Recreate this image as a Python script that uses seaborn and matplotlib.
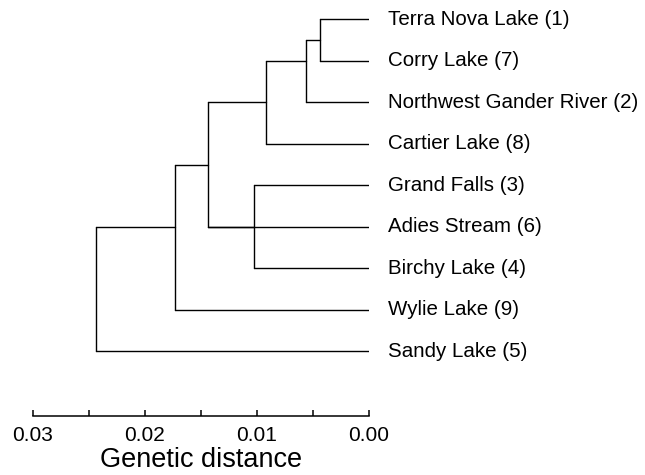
import matplotlib
matplotlib.use("Agg")
import matplotlib.pyplot as plt
import seaborn as sns
import pandas as pd

# ---- data ----
leaves = ["Terra Nova Lake (1)", "Corry Lake (7)", "Northwest Gander River (2)",
          "Cartier Lake (8)", "Grand Falls (3)", "Adies Stream (6)",
          "Birchy Lake (4)", "Wylie Lake (9)", "Sandy Lake (5)"]
# internal nodes: name, children, genetic distance (node height)
node_names = ["n1", "n2", "n3", "n4", "n5", "n6", "root"]
node_children = [["Terra Nova Lake (1)", "Corry Lake (7)"],
                 ["n1", "Northwest Gander River (2)"],
                 ["n2", "Cartier Lake (8)"],
                 ["Grand Falls (3)", "Birchy Lake (4)"],
                 ["n3", "n4", "Adies Stream (6)"],
                 ["n5", "Wylie Lake (9)"],
                 ["n6", "Sandy Lake (5)"]]
node_height = [0.0044, 0.0056, 0.0092, 0.0103, 0.0144, 0.0173, 0.0244]
tick_values = [0.03, 0.025, 0.02, 0.015, 0.01, 0.005, 0.0]
tick_labels = ["0.03", "", "0.02", "", "0.01", "", "0.00"]

# ---- layout (drawing row of each internal node, as in the original figure) ----
node_row = [0.5, 1.0, 2.0, 5.0, 3.5, 5.0, None]

sns.set_style("white")
plt.rcParams["font.family"] = ["Liberation Sans", "DejaVu Sans"]
plt.rcParams["text.color"] = "black"
plt.rcParams["xtick.color"] = "black"
plt.rcParams["axes.labelcolor"] = "black"

height = {name: 0.0 for name in leaves}
row = {name: float(i) for i, name in enumerate(leaves)}
for name, h, r in zip(node_names, node_height, node_row):
    height[name] = h
    row[name] = r

segs = []
sid = 0
for name, kids in zip(node_names, node_children):
    h = height[name]
    rows = [row[k] for k in kids]
    segs.append((sid, h, min(rows))); segs.append((sid, h, max(rows))); sid += 1
    for k in kids:
        segs.append((sid, h, row[k])); segs.append((sid, height[k], row[k])); sid += 1
df = pd.DataFrame(segs, columns=["seg", "x", "y"])

fig = plt.figure(figsize=(6.45, 4.75), dpi=100)
ax = fig.add_axes([33 / 645, 59.3 / 475, 336 / 645, 415.7 / 475])
sns.lineplot(data=df, x="x", y="y", units="seg", estimator=None, sort=False,
             color="black", linewidth=1.0, ax=ax, legend=False)

ax.set_xlim(0.03, 0.0)
ax.set_ylim((415.7 - 19.3) / 41.5, -19.3 / 41.5)
for name in leaves:
    ax.annotate(name, xy=(0, row[name]), xytext=(14, 0), textcoords="offset points",
                ha="left", va="center", fontsize=14.8, color="black",
                annotation_clip=False)

for s in ["top", "right", "left"]:
    ax.spines[s].set_visible(False)
ax.spines["bottom"].set_bounds(0.0, 0.03)
ax.spines["bottom"].set_linewidth(1.1)
ax.spines["bottom"].set_color("black")
ax.set_yticks([])
ax.set_xticks(tick_values)
ax.set_xticklabels(tick_labels, fontsize=15)
ax.tick_params(axis="x", bottom=True, direction="in", length=4.5, width=1.1,
               pad=7.5, color="black", labelcolor="black")
ax.set_xlabel("Genetic distance", fontsize=19.5, labelpad=1)
ax.set_ylabel("")

fig.savefig("out.png", dpi=100)
